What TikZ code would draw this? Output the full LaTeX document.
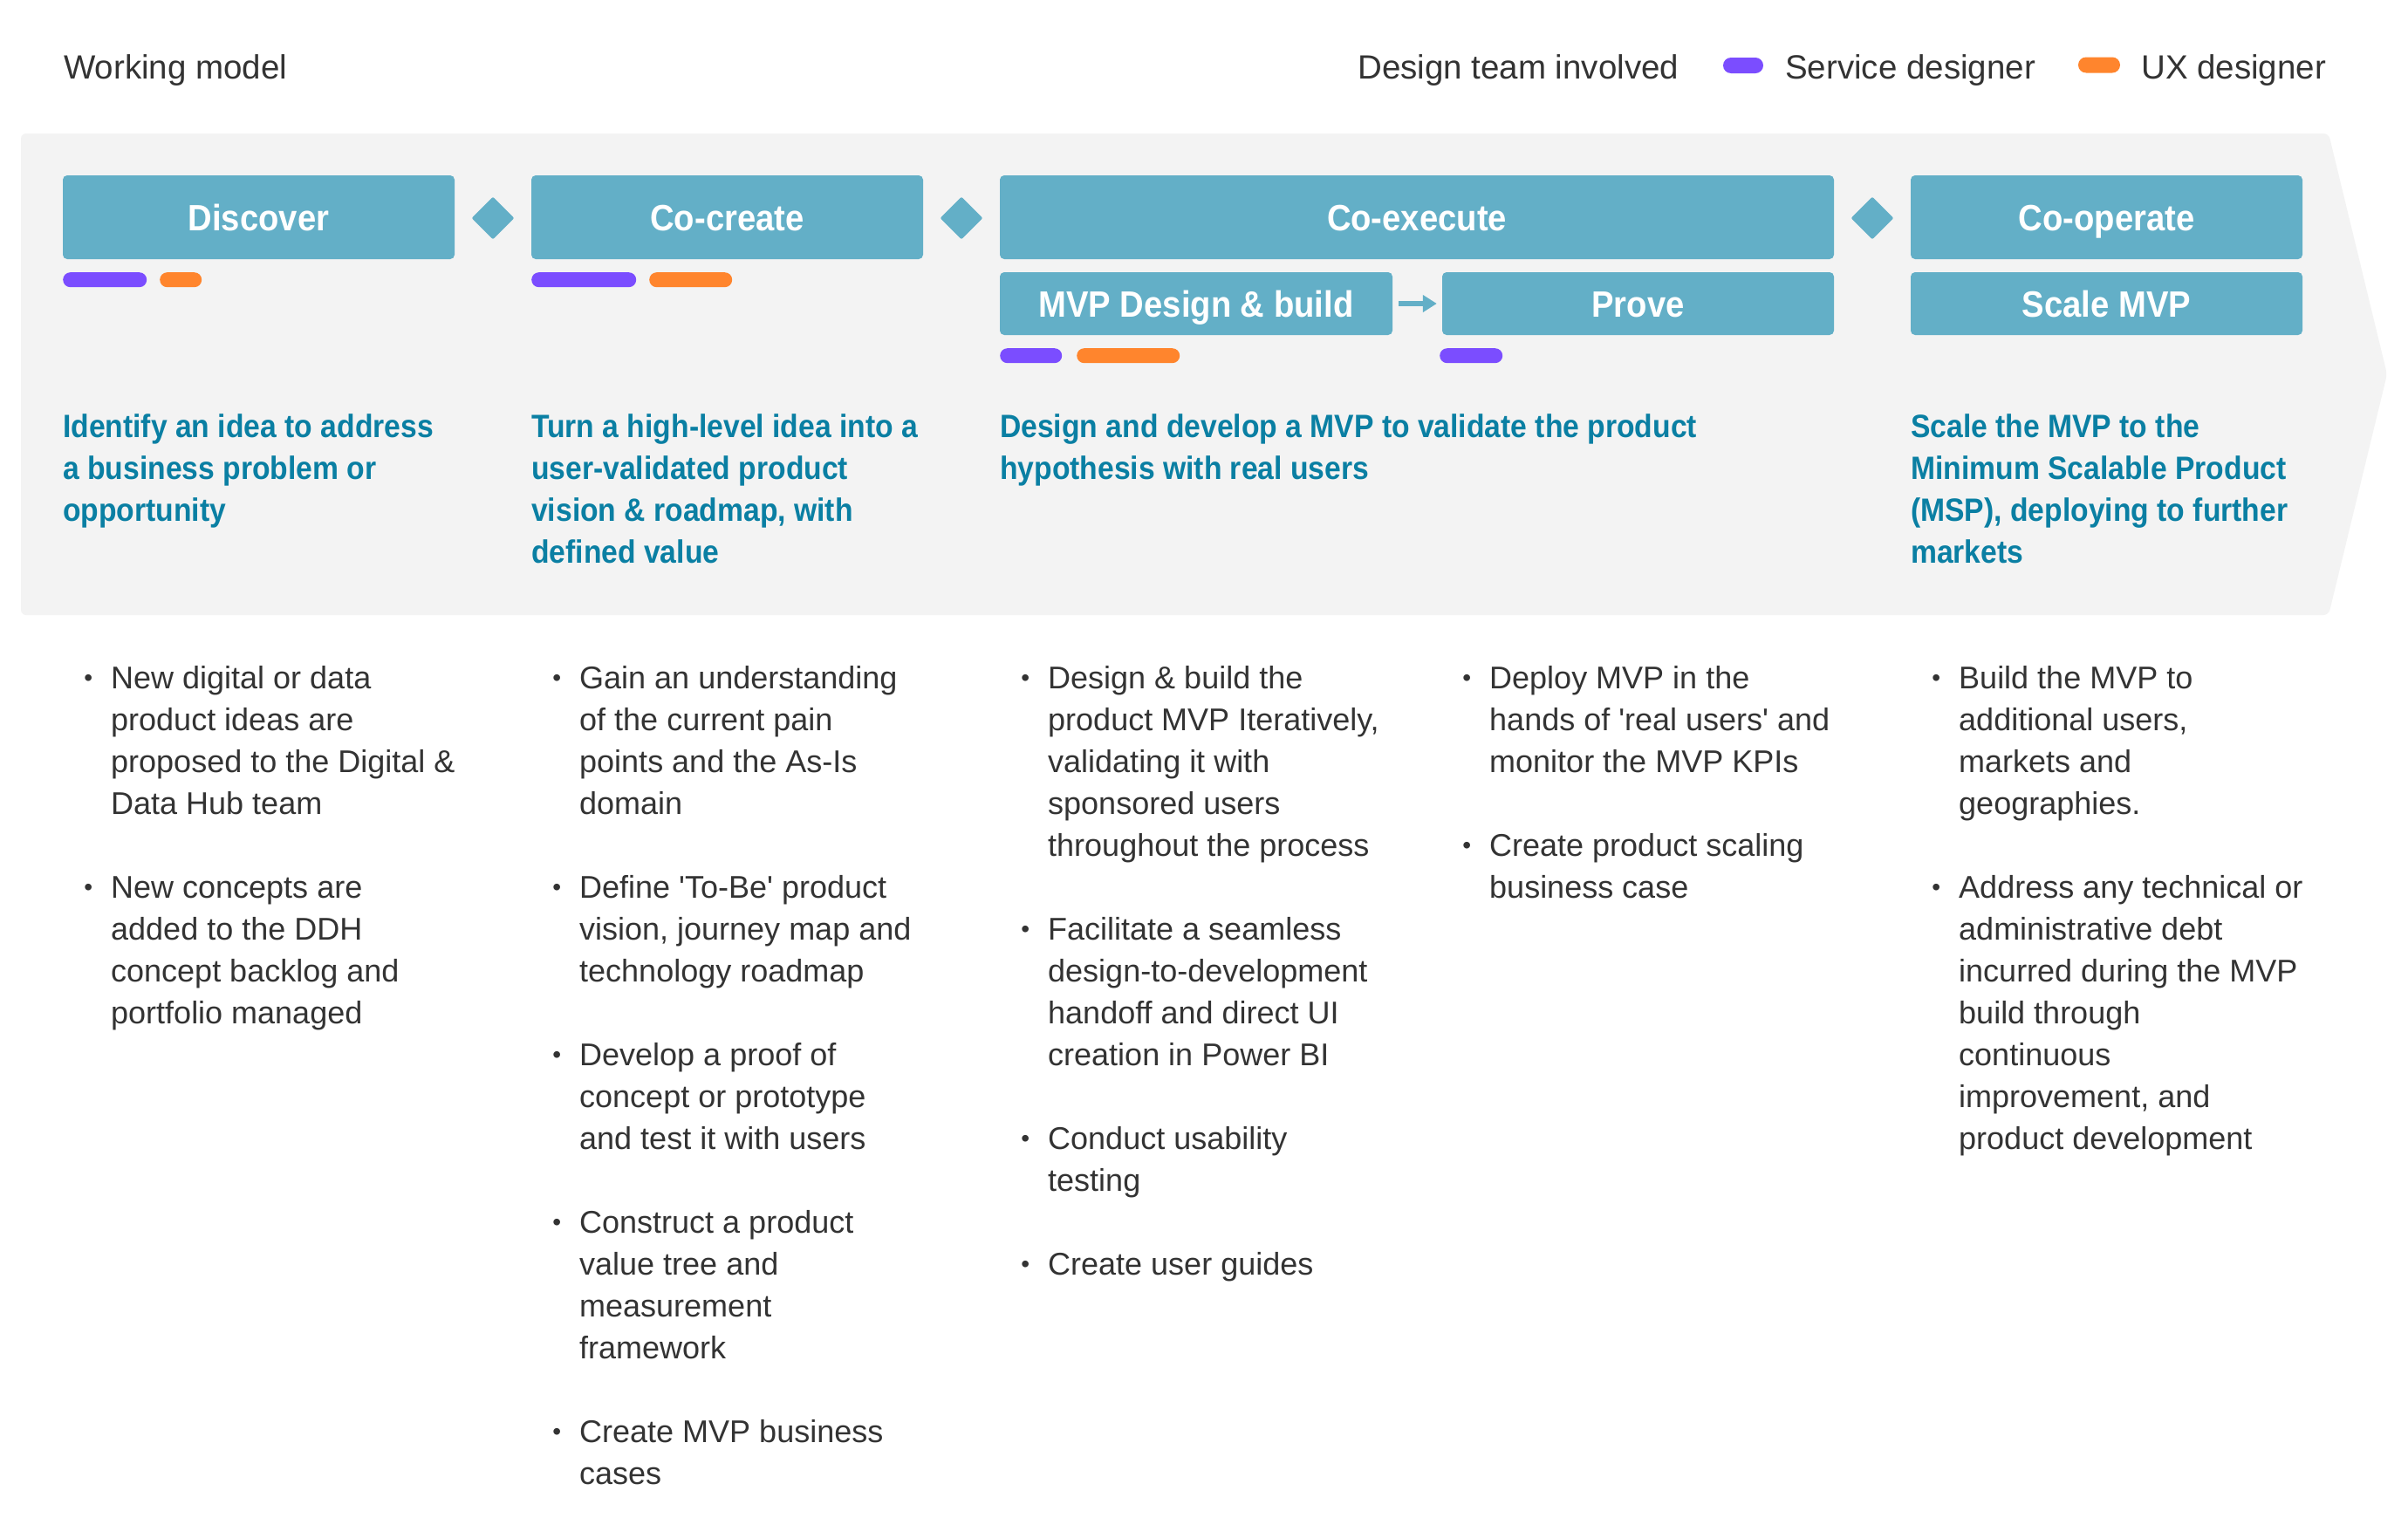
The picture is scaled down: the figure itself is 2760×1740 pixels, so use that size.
\documentclass[tikz,border=0pt]{standalone}
\usepackage{fontspec}
\usetikzlibrary{arrows.meta}
\newfontfamily\bodyfont[Ligatures=TeXOff]{Liberation Sans}
\newfontfamily\semifont[FakeStretch=0.91]{Liberation Sans}
\definecolor{panelgray}{HTML}{F3F3F3}
\definecolor{boxteal}{HTML}{63AFC7}
\definecolor{descteal}{HTML}{0A7FA3}
\definecolor{purp}{HTML}{7B4DFF}
\definecolor{orng}{HTML}{FF852D}
\definecolor{txt}{HTML}{333333}
\newcommand\bul{\leavevmode\llap{\raisebox{3pt}{\fontsize{28}{28}\selectfont\char"2022}\hspace{21pt}}}
\begin{document}
\begin{tikzpicture}[x=1pt,y=-1pt,
  stagebox/.style={fill=boxteal, rounded corners=5pt, inner sep=0pt, text=white,
    font=\semifont\bfseries\fontsize{42}{48}\selectfont, text height=30pt, text depth=0pt},
  gem/.style={fill=boxteal, rounded corners=2pt, inner sep=0pt, minimum size=34.6pt, rotate=45},
  pill/.style={rounded corners=8.5pt, inner sep=0pt, minimum height=17pt, anchor=north west},
  legendpill/.style={rounded corners=9pt, inner sep=0pt, minimum height=18pt},
  head/.style={anchor=base west, inner sep=0pt, text=txt, font=\bodyfont\fontsize{38.5}{48}\selectfont},
  desc/.style={anchor=base west, inner sep=0pt, text=descteal, font=\semifont\bfseries\fontsize{37}{48}\selectfont},
  body/.style={anchor=base west, inner sep=0pt, text=txt, font=\bodyfont\fontsize{36}{48}\selectfont},
  flow/.style={-{Triangle[length=16pt,width=19pt]}, line width=6pt, draw=boxteal}
]
\useasboundingbox (0,0) rectangle (2760,1740);
\fill[white] (0,0) rectangle (2760,1740);

% header
\node[head] (title) at (73,90) {Working model};
\node[head] (legendlabel) at (1556,90) {Design team involved};
\node[legendpill, fill=purp, minimum width=46pt] (legsd) at (1998,75) {};
\node[head] (legsdtext) at (2046,90) {Service designer};
\node[legendpill, fill=orng, minimum width=48pt] (legux) at (2406,74.5) {};
\node[head] (leguxtext) at (2454,90) {UX designer};

% panel
\fill[panelgray, rounded corners=6pt] (24,153) -- (2669,153) -- (2736,429) -- (2669,705) -- (24,705) -- cycle;

% stage boxes
\node[stagebox, minimum width=449pt, minimum height=96pt] (discover) at (296.5,249) {Discover};
\node[stagebox, minimum width=449pt, minimum height=96pt] (cocreate) at (833.5,249) {Co-create};
\node[stagebox, minimum width=956pt, minimum height=96pt] (coexecute) at (1624,249) {Co-execute};
\node[stagebox, minimum width=449pt, minimum height=96pt] (cooperate) at (2414.5,249) {Co-operate};
\node[stagebox, minimum width=450pt, minimum height=72pt] (mvp) at (1371,348) {MVP Design \& build};
\node[stagebox, minimum width=449pt, minimum height=72pt] (prove) at (1877.5,348) {Prove};
\node[stagebox, minimum width=449pt, minimum height=72pt] (scale) at (2414.5,348) {Scale MVP};

% milestones
\node[gem] (gem1) at (565,250) {};
\node[gem] (gem2) at (1102,250) {};
\node[gem] (gem3) at (2146,250) {};

% arrow
\draw[flow] ([xshift=7pt]mvp.east) -- ([xshift=-6pt]prove.west);

% pills
\node[pill, fill=purp, minimum width=96pt] (p1s) at (72,312) {};
\node[pill, fill=orng, minimum width=48pt] (p1u) at (183,312) {};
\node[pill, fill=purp, minimum width=120pt] (p2s) at (609,312) {};
\node[pill, fill=orng, minimum width=95pt] (p2u) at (744,312) {};
\node[pill, fill=purp, minimum width=71pt] (p3s) at (1146,399) {};
\node[pill, fill=orng, minimum width=118pt] (p3u) at (1234,399) {};
\node[pill, fill=purp, minimum width=72pt] (p4s) at (1650,399) {};

% descriptions
\node[desc] (desc1) at (72,501) {\parbox[t]{700pt}{\raggedright Identify an idea to address\\a business problem or\\opportunity}};
\node[desc] (desc2) at (609,501) {\parbox[t]{700pt}{\raggedright Turn a high-level idea into a\\user-validated product\\vision \& roadmap, with\\defined value}};
\node[desc] (desc3) at (1146,501) {\parbox[t]{1000pt}{\raggedright Design and develop a MVP to validate the product\\hypothesis with real users}};
\node[desc] (desc5) at (2190,501) {\parbox[t]{700pt}{\raggedright Scale the MVP to the\\Minimum Scalable Product\\(MSP), deploying to further\\markets}};

% bullet lists
\node[body] (list1) at (127,789) {\parbox[t]{700pt}{\raggedright
\bul New digital or data\\product ideas are\\proposed to the Digital \&\\Data Hub team\\[48pt]
\bul New concepts are\\added to the DDH\\concept backlog and\\portfolio managed}};

\node[body] (list2) at (664,789) {\parbox[t]{700pt}{\raggedright
\bul Gain an understanding\\of the current pain\\points and the As-Is\\domain\\[48pt]
\bul Define 'To-Be' product\\vision, journey map and\\technology roadmap\\[48pt]
\bul Develop a proof of\\concept or prototype\\and test it with users\\[48pt]
\bul Construct a product\\value tree and\\measurement\\framework\\[48pt]
\bul Create MVP business\\cases}};

\node[body] (list3) at (1201,789) {\parbox[t]{700pt}{\raggedright
\bul Design \& build the\\product MVP Iteratively,\\validating it with\\sponsored users\\throughout the process\\[48pt]
\bul Facilitate a seamless\\design-to-development\\handoff and direct UI\\creation in Power BI\\[48pt]
\bul Conduct usability\\testing\\[48pt]
\bul Create user guides}};

\node[body] (list4) at (1707,789) {\parbox[t]{700pt}{\raggedright
\bul Deploy MVP in the\\hands of 'real users' and\\monitor the MVP KPIs\\[48pt]
\bul Create product scaling\\business case}};

\node[body] (list5) at (2245,789) {\parbox[t]{700pt}{\raggedright
\bul Build the MVP to\\additional users,\\markets and\\geographies.\\[48pt]
\bul Address any technical or\\administrative debt\\incurred during the MVP\\build through\\continuous\\improvement, and\\product development}};
\end{tikzpicture}
\end{document}
